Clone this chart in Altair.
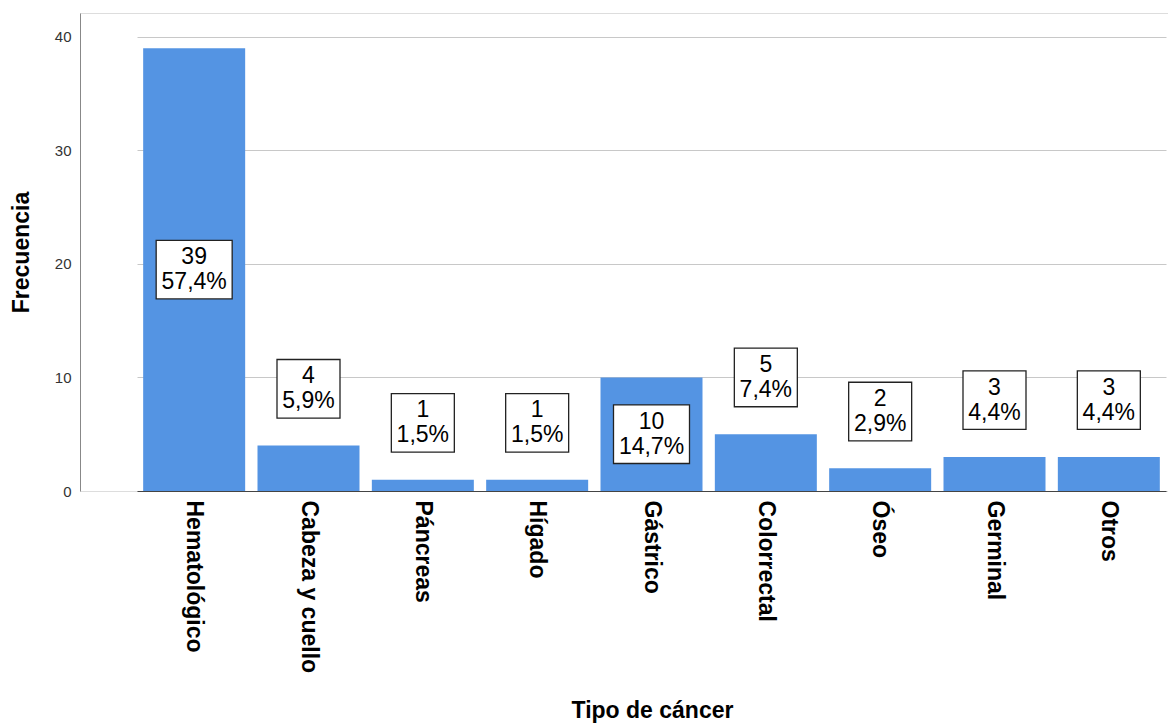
import altair as alt
import pandas as pd

categories = ["Hematológico", "Cabeza y cuello", "Páncreas", "Hígado", "Gástrico",
              "Colorrectal", "Óseo", "Germinal", "Otros"]
counts = [39, 4, 1, 1, 10, 5, 2, 3, 3]

total = sum(counts)
pct = [f"{c / total * 100:.1f}".replace(".", ",") + "%" for c in counts]

df = pd.DataFrame({"cat": categories, "n": counts, "pct": pct})
df["label"] = df["n"].astype(str) + "\n" + df["pct"]
# label anchor: centred inside tall bars, above short ones
df["ly"] = [c / 2 if c >= 10 else c + 5 for c in counts]
df["wide"] = df["pct"].str.len() >= 5

FONT = "Liberation Sans"
BOX_HALF = 2.58  # half box height in data units

x_enc = alt.X("cat:N", sort=categories,
              scale=alt.Scale(range=[57, 1086], paddingInner=0.108, paddingOuter=0.054),
              axis=alt.Axis(title="Tipo de cáncer", labelAngle=90, labelAlign="left",
                            labelBaseline="middle", labelFontSize=23, labelFont=FONT,
                            labelFontWeight="bold",
                            labelColor="#000", labelPadding=9, tickSize=0,
                            domainColor="#444", domainWidth=1,
                            titleFont=FONT, titleFontSize=23, titleFontWeight="bold",
                            titleColor="#000", titleX=572, titleY=226,
                            titleAlign="center", titleBaseline="alphabetic",
                            labelLimit=300))

y_scale = alt.Scale(domain=[0, 42.1], nice=False)

bars = alt.Chart(df).mark_bar(color="#5494e3", width=102).encode(
    x=x_enc,
    y=alt.Y("n:Q", scale=y_scale,
            axis=alt.Axis(title="Frecuencia", values=[0, 10, 20, 30, 40],
                          labelFont=FONT, labelFontSize=15, labelColor="#333",
                          labelPadding=9, tickSize=0,
                          domainColor="#888", gridColor="#c8c8c8", grid=True,
                          titleFont=FONT, titleFontSize=23, titleFontWeight="bold",
                          titleColor="#000", titleAngle=-90, titleX=-59, titleY=239,
                          titleAlign="center", titleBaseline="middle")),
)

def boxes(wide, w):
    return alt.Chart(df).transform_filter(
        alt.datum.wide if wide else ~alt.datum.wide
    ).transform_calculate(
        y0=f"datum.ly - {BOX_HALF}", y1=f"datum.ly + {BOX_HALF}"
    ).mark_bar(fill="white", stroke="#222", strokeWidth=1.3, width=w).encode(
        x=alt.X("cat:N", sort=categories),
        y=alt.Y("y0:Q", scale=y_scale),
        y2="y1:Q",
    )

texts = alt.Chart(df).mark_text(font=FONT, fontSize=23, lineHeight=25, color="#000",
                                 lineBreak="\n", baseline="middle", align="center",
                                 dy=-12.5).encode(
    x=alt.X("cat:N", sort=categories),
    y=alt.Y("ly:Q", scale=y_scale),
    text="label:N",
)

chart = alt.layer(bars, boxes(True, 76), boxes(False, 63), texts).properties(
    width=1088, height=478,
    padding={"left": 80, "top": 13, "right": 0, "bottom": 232},
    autosize=alt.AutoSizeParams(type="none"),
).configure_view(stroke=None).configure(background="white")

chart.save("out.html", embed_options={"renderer": "svg", "actions": False})
